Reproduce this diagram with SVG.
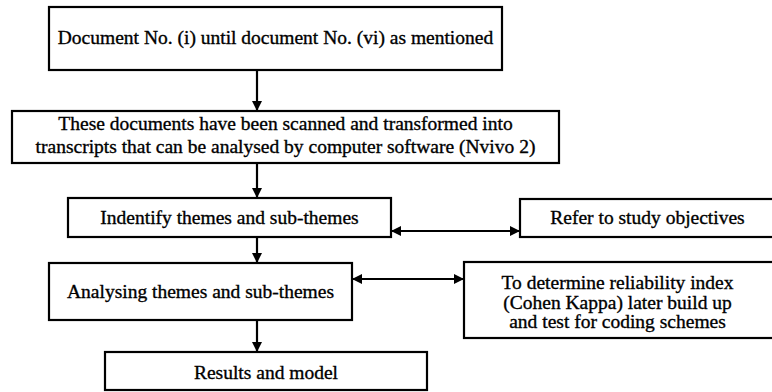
<svg xmlns="http://www.w3.org/2000/svg" width="772" height="392" viewBox="0 0 772 392">
<defs>
<style>
.box{fill:#fff;stroke:#000;stroke-width:2.2}
.t{font-family:"Liberation Serif","Times New Roman",serif;font-size:19.5px;fill:#000;stroke:#000;stroke-width:0.35;text-anchor:middle}
.c{stroke:#000;stroke-width:2.2;fill:none}
</style>
<marker id="ah" viewBox="0 0 10 10" refX="10" refY="5" markerWidth="10" markerHeight="10" markerUnits="userSpaceOnUse" orient="auto-start-reverse">
<path d="M0,0 L10,5 L0,10 Z" fill="#000"/>
</marker>
</defs>
<rect width="772" height="392" fill="#fff"/>
<g id="connectors">
<line class="c" x1="257" y1="70" x2="257" y2="111" marker-end="url(#ah)"/>
<line class="c" x1="257" y1="163" x2="257" y2="198" marker-end="url(#ah)"/>
<line class="c" x1="257" y1="237" x2="257" y2="263" marker-end="url(#ah)"/>
<line class="c" x1="257" y1="320" x2="257" y2="352" marker-end="url(#ah)"/>
<line class="c" x1="391" y1="231" x2="520" y2="231" marker-start="url(#ah)" marker-end="url(#ah)"/>
<line class="c" x1="352" y1="279" x2="464" y2="279" marker-start="url(#ah)" marker-end="url(#ah)"/>
</g>
<g id="node-documents">
<rect class="box" x="49" y="7" width="453" height="63"/>
<text class="t" x="275.5" y="44" font-family="Liberation Serif, serif">Document No. (i) until document No. (vi) as mentioned</text>
</g>
<g id="node-scanned">
<rect class="box" x="12" y="111" width="547" height="52"/>
<text class="t" x="285.5" y="130">These documents have been scanned and transformed into</text>
<text class="t" x="285.5" y="153">transcripts that can be analysed by computer software (Nvivo 2)</text>
</g>
<g id="node-identify">
<rect class="box" x="68" y="198" width="323" height="39"/>
<text class="t" x="229.5" y="224">Indentify themes and sub-themes</text>
</g>
<g id="node-objectives">
<rect class="box" x="520" y="199" width="260" height="38"/>
<text class="t" x="647.5" y="224">Refer to study objectives</text>
</g>
<g id="node-analysing">
<rect class="box" x="49" y="263" width="303" height="57"/>
<text class="t" x="200.5" y="298">Analysing themes and sub-themes</text>
</g>
<g id="node-reliability">
<rect class="box" x="464" y="262" width="312" height="76"/>
<text class="t" x="617.5" y="289">To determine reliability index</text>
<text class="t" x="617.5" y="308.5">(Cohen Kappa) later build up</text>
<text class="t" x="617.5" y="328">and test for coding schemes</text>
</g>
<g id="node-results">
<rect class="box" x="105" y="352" width="322" height="38"/>
<text class="t" x="266" y="379">Results and model</text>
</g>
</svg>
